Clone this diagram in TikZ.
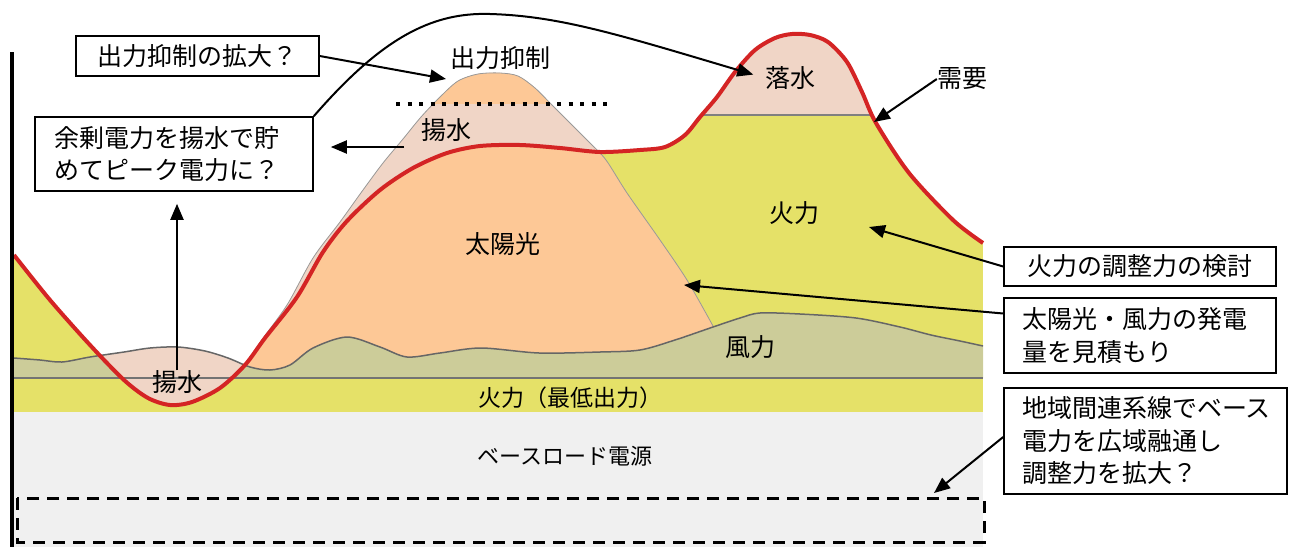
\documentclass[tikz,border=0pt]{standalone}
\usepackage{fontspec}
\setmainfont{Noto Sans CJK JP}
\usetikzlibrary{arrows.meta}

\definecolor{basefill}{RGB}{240,240,240}
\definecolor{thermalfill}{RGB}{229,225,104}
\definecolor{windfill}{RGB}{204,204,153}
\definecolor{solarfill}{RGB}{253,200,150}
\definecolor{pumpfill}{RGB}{240,213,198}
\definecolor{demandred}{RGB}{212,36,36}

\newcommand{\demandcurve}{plot[smooth, tension=0.5] coordinates {(14,255) (50,300) (90,345) (124,380) (148,398) (170,405) (192,402) (220,388) (245,365) (265,338) (297,297) (323,252) (347,221) (380,190) (413,168) (447,153) (480,146) (520,145) (560,148) (600,152) (640,150) (665,147) (685,135) (700,117) (717,97) (735,72) (755,50) (775,38) (792,34) (810,35) (828,42) (847,62) (862,92) (876,123) (909,173) (953,220) (983,243)}}
\newcommand{\solarcurve}{plot[smooth, tension=0.5] coordinates {(245,366) (261,341) (287,305) (313,258) (340,222) (363,190) (383,163) (403,139) (421,117) (440,97) (458,81) (478,74) (500,73) (518,76) (535,88) (552,105) (570,123) (590,143) (606,160) (627,193) (660,240) (687,280) (713,326)}}
\newcommand{\windcurve}{plot[smooth, tension=0.5] coordinates {(14,358) (40,360) (62,362) (90,357) (124,352) (150,348) (178,347) (205,351) (228,358) (250,367) (270,370) (290,365) (313,348) (347,337) (380,347) (407,357) (440,353) (481,348) (539,353) (600,352) (640,350) (675,340) (713,327) (740,318) (760,313) (800,314) (856,318) (900,327) (931,335) (960,341) (983,346)}}

\begin{document}
\begin{tikzpicture}[x=1pt, y=-1pt,
    lbl/.style={font=\fontsize{25}{32.5}\selectfont, inner sep=0pt},
    note/.style={draw, line width=1.6pt, fill=white, font=\fontsize{25}{32.5}\selectfont, inner ysep=0pt},
    pointer/.style={line width=2pt, -{Triangle[length=16pt, width=13pt]}}]
    \useasboundingbox (0,0) rectangle (1292,547);

    % layers of supply
    \fill[basefill] (14,412) rectangle (983,547);
    \fill[thermalfill] (14,378) rectangle (983,412);
    \begin{scope}
        \clip \demandcurve -- (983,412) -- (14,412) -- cycle;
        \fill[thermalfill] (14,0) rectangle (983,412);
        \fill[pumpfill] (14,0) rectangle (983,115);
        \draw[gray, line width=1.2pt] (14,115) -- (983,115);
    \end{scope}
    \fill[solarfill] \solarcurve -- (713,378) -- (245,378) -- cycle;
    \begin{scope}
        \clip \demandcurve -- (983,0) -- (14,0) -- cycle;
        \fill[pumpfill] \solarcurve -- (713,378) -- (245,378) -- cycle;
    \end{scope}
    \begin{scope}
        \clip \solarcurve -- (713,378) -- (245,378) -- cycle;
        \fill[solarfill] (14,0) rectangle (983,104);
    \end{scope}
    \fill[windfill] \windcurve -- (983,378) -- (14,378) -- cycle;
    \begin{scope}
        \clip \demandcurve -- (983,0) -- (14,0) -- cycle;
        \fill[pumpfill] \windcurve -- (983,412) -- (14,412) -- cycle;
    \end{scope}

    \draw[gray!80, line width=0.8pt] \solarcurve;
    \draw[black!60, line width=1.5pt] \windcurve;
    \draw[black!55, line width=1.5pt] (14,378) -- (983,378);
    \draw[demandred, line width=4pt] \demandcurve;

    \draw[line width=4pt, dash pattern=on 4pt off 7.5pt] (396,104) -- (614,104);
    \draw[line width=3pt, dash pattern=on 12pt off 8pt] (17,498) rectangle (984,542);
    \draw[line width=4pt] (12,52) -- (12,547);

    % labels in the chart
    \node[lbl] (curtail) at (500,58) {出力抑制};
    \node[lbl] (pumpup) at (446,130) {揚水};
    \node[lbl] (solar) at (503,244) {太陽光};
    \node[lbl] (release) at (790,78) {落水};
    \node[lbl] (demand) at (962,79) {需要};
    \node[lbl] (thermal) at (794,213) {火力};
    \node[lbl] (wind) at (750,347) {風力};
    \node[lbl] (pumpdown) at (177,382) {揚水};
    \node[lbl, font=\fontsize{23}{28}\selectfont] (thermalmin) at (570,398) {火力（最低出力）};
    \node[lbl, font=\fontsize{22}{28}\selectfont] (base) at (565,456) {ベースロード電源};

    % notes
    \node[note, minimum width=243, minimum height=40, align=center] (box1) at (197.5,56) {出力抑制の拡大？};
    \node[note, text width=240, inner xsep=19, minimum height=74, align=left] (box2) at (174,154) {余剰電力を揚水で貯\\めてピーク電力に？};
    \node[note, minimum width=272, minimum height=39, align=center] (box3) at (1140,266.5) {火力の調整力の検討};
    \node[note, text width=236, inner xsep=18, minimum height=75, align=left] (box4) at (1140,335.5) {太陽光・風力の発電\\量を見積もり};
    \node[note, text width=247, inner xsep=18, minimum height=106, align=left] (box5) at (1145.5,441) {地域間連系線でベース\\電力を広域融通し\\調整力を拡大？};

    \coordinate (curtailpt) at (446,79);
    \coordinate (pumpfrom) at (404,147);
    \coordinate (demandpt) at (874,122);
    \coordinate (thermalpt) at (869,227);
    \coordinate (solarpt) at (684,285);
    \coordinate (linkpt) at (934,493);

    \draw[pointer] (box1.east) -- (curtailpt);
    \draw[pointer, shorten >=17pt] (pumpfrom) -- (box2.east |- pumpfrom);
    \draw[pointer, shorten >=12pt] (pumpdown.north) -- (pumpdown.north |- box2.south);
    \draw[pointer, shorten >=12pt] (box2.north east) .. controls (380,40) and (430,12) .. (490,14)
        .. controls (560,16) and (620,35) .. (release.west);
    \draw[pointer] (demand.west) -- (demandpt);
    \draw[pointer] (box3.west) -- (thermalpt);
    \draw[pointer] (box4.west) ++(0,-22) -- (solarpt);
    \draw[pointer] (box5.west) ++(0,-4) -- (linkpt);
\end{tikzpicture}
\end{document}
